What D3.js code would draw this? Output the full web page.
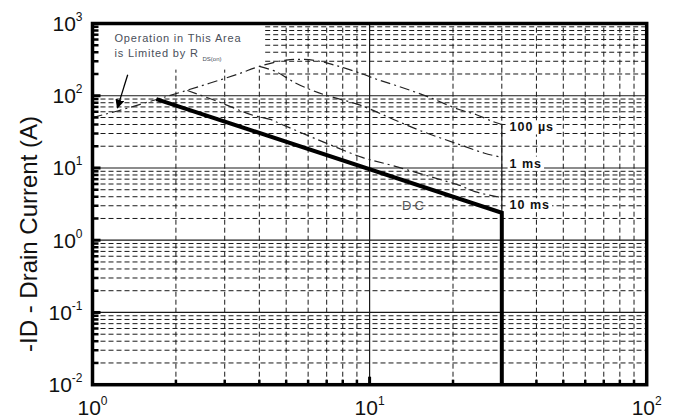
<!DOCTYPE html>
<html>
<head>
<meta charset="utf-8">
<script src="https://cdn.jsdelivr.net/npm/d3@7.9.0/dist/d3.min.js"></script>
<style>
  body { margin: 0; background: #fff; }
  svg { display: block; font-family: Arial, "Liberation Sans", sans-serif; }
</style>
</head>
<body>
<svg id="chart" width="675" height="420"></svg>
<script>
// Axis decades and labels
const xDecades = [1, 10, 100];
const xExponents = ["0", "1", "2"];
const yDecades = [0.01, 0.1, 1, 10, 100, 1000];
const yExponents = ["-2", "-1", "0", "1", "2", "3"];
const minorSteps = [2, 3, 4, 5, 6, 7, 8, 9];

// Safe operating area curves (V, A)
const pulse100usV = [1, 1.24, 1.69, 2.13, 3.33, 4.0, 5.0, 5.8, 6.6, 7.4, 8.2, 9.5, 10.6, 12.3, 16.1, 20.9, 24.2, 27.8, 30];
const pulse100usI = [50, 62, 88, 115, 198, 255, 312, 318, 300, 268, 239, 198, 169, 141, 98, 65, 55, 44, 40];
const pulse1msV = [4.0, 4.6, 5.4, 6.2, 7.0, 9.25, 12.2, 15.2, 20.8, 26, 30];
const pulse1msI = [255, 215, 150, 119, 101, 74, 47, 33, 21.5, 16, 14];
const pulse10msV = [2.2, 2.77, 3.8, 4.38, 4.83, 6.0, 7.2, 9.4, 12.2, 18.5, 21, 24, 30];
const pulse10msI = [118, 86, 53.5, 47, 40, 28, 21, 14, 10.7, 6.7, 5.8, 4.7, 3.9];
const dcV = [1.7, 30, 30];
const dcI = [90, 2.4, 0.01];
const vdsLimitV = [30, 30];
const vdsLimitI = [40, 2.4];

// Curve labels
const pulseLabels = ["100 µs", "1 ms", "10 ms"];
const pulseLabelI = [37, 11.7, 3.1];
const pulseLabelV = 32;

const svg = d3.select("#chart");
const margin = { left: 92.5, right: 28.3, top: 23.5, bottom: 35.3 };
const width = 675, height = 420;
const x0 = margin.left, x1 = width - margin.right;
const y0 = margin.top, y1 = height - margin.bottom;

const x = d3.scaleLog().domain([1, 100]).range([x0, x1]);
const y = d3.scaleLog().domain([0.01, 1000]).range([y1, y0]);

const zip = (a, b) => a.map((v, i) => [v, b[i]]);

// minor values per decade
const xMinor = xDecades.slice(0, -1).flatMap((d) => minorSteps.map((k) => k * d));
const yMinor = yDecades.slice(0, -1).flatMap((d) => minorSteps.map((k) => k * d));

const grid = svg.append("g").attr("stroke", "#1a1a1a").attr("fill", "none");

// horizontal dashed rows (top decade starts right of the note)
yMinor.forEach((v) => {
  grid.append("line")
    .attr("x1", v > 100 ? x(4.2) : x0).attr("x2", x1)
    .attr("y1", y(v)).attr("y2", y(v))
    .attr("stroke-width", 1).attr("stroke-dasharray", "5,3");
});

// vertical dashed columns
xMinor.forEach((v) => {
  grid.append("line")
    .attr("x1", x(v)).attr("x2", x(v))
    .attr("y1", y1).attr("y2", v < 4.5 ? y(230) : y0)
    .attr("stroke-width", 1).attr("stroke-dasharray", "5,3");
});

// solid decade lines
yDecades.slice(1, -1).forEach((v) => {
  grid.append("line")
    .attr("x1", x0).attr("x2", x1).attr("y1", y(v)).attr("y2", y(v))
    .attr("stroke-width", 1.2);
});
xDecades.slice(1, -1).forEach((v) => {
  grid.append("line")
    .attr("x1", x(v)).attr("x2", x(v)).attr("y1", y0).attr("y2", y1)
    .attr("stroke-width", 1.2);
});

// curves
svg.append("defs").append("clipPath").attr("id", "plot")
  .append("rect").attr("x", x0).attr("y", y0).attr("width", x1 - x0).attr("height", y1 - y0);

const curveLine = d3.line()
  .x((d) => x(d[0]))
  .y((d) => y(d[1]))
  .curve(d3.curveCatmullRom.alpha(0.5));

const curves = svg.append("g").attr("clip-path", "url(#plot)").attr("fill", "none");

[zip(pulse100usV, pulse100usI), zip(pulse1msV, pulse1msI), zip(pulse10msV, pulse10msI)].forEach((pts) => {
  curves.append("path")
    .attr("d", curveLine(pts))
    .attr("stroke", "#222")
    .attr("stroke-width", 1.2)
    .attr("stroke-dasharray", "10,4,2,4");
});

curves.append("path")
  .attr("d", d3.line().x((d) => x(d[0])).y((d) => y(d[1]))(zip(vdsLimitV, vdsLimitI)))
  .attr("stroke", "#222").attr("stroke-width", 1.2);

curves.append("path")
  .attr("d", d3.line().x((d) => x(d[0])).y((d) => y(d[1]))(zip(dcV, dcI)))
  .attr("stroke", "#000").attr("stroke-width", 4).attr("stroke-linejoin", "miter");

// curve labels with white backing
pulseLabels.forEach((lab, i) => {
  const t = svg.append("text")
    .attr("x", x(pulseLabelV))
    .attr("y", y(pulseLabelI[i]) + 4.5)
    .attr("font-size", 12.5)
    .attr("font-weight", "bold")
    .attr("letter-spacing", 1)
    .attr("fill", "#111")
    .text(lab);
  const b = t.node().getBBox();
  svg.insert("rect", () => t.node())
    .attr("x", b.x - 2).attr("y", b.y).attr("width", b.width + 4).attr("height", b.height)
    .attr("fill", "#fff");
});

svg.append("text")
  .attr("x", x(13.1)).attr("y", y(3.1) + 5)
  .attr("font-size", 13).attr("letter-spacing", 3).attr("fill", "#555")
  .text("DC");

// note about Rds(on)
const note = svg.append("g").attr("fill", "#4a4f5a").attr("font-size", 11).attr("letter-spacing", 0.8);
note.append("text").attr("x", x0 + 22).attr("y", y(560)).text("Operation in This Area");
const n2 = note.append("text").attr("x", x0 + 22).attr("y", y(340));
n2.append("tspan").text("is Limited by R ");
n2.append("tspan").attr("font-size", 6).attr("dy", 4).attr("letter-spacing", 0).text("DS(on)");

svg.select("defs").append("marker")
  .attr("id", "arrow").attr("viewBox", "0 0 10 10")
  .attr("refX", 9).attr("refY", 5)
  .attr("markerWidth", 7).attr("markerHeight", 7)
  .attr("orient", "auto")
  .append("path").attr("d", "M0,0L10,5L0,10z").attr("fill", "#000");

svg.append("line")
  .attr("x1", x(1.34)).attr("y1", y(195))
  .attr("x2", x(1.23)).attr("y2", y(68))
  .attr("stroke", "#000").attr("stroke-width", 1.3)
  .attr("marker-end", "url(#arrow)");

// frame
svg.append("rect")
  .attr("x", x0).attr("y", y0).attr("width", x1 - x0).attr("height", y1 - y0)
  .attr("fill", "none").attr("stroke", "#000").attr("stroke-width", 3.5);

// axis stubs
const stubs = svg.append("g").attr("stroke", "#000");
yMinor.forEach((v) => {
  stubs.append("line").attr("x1", x0).attr("x2", x0 + 6)
    .attr("y1", y(v)).attr("y2", y(v)).attr("stroke-width", 2.5);
});
yDecades.slice(1, -1).forEach((v) => {
  stubs.append("line").attr("x1", x0).attr("x2", x0 + 8)
    .attr("y1", y(v)).attr("y2", y(v)).attr("stroke-width", 3);
});
xMinor.forEach((v) => {
  stubs.append("line").attr("x1", x(v)).attr("x2", x(v))
    .attr("y1", y1).attr("y2", y1 - 5).attr("stroke-width", 2.5);
});
xDecades.slice(1, -1).forEach((v) => {
  stubs.append("line").attr("x1", x(v)).attr("x2", x(v))
    .attr("y1", y1).attr("y2", y1 - 8).attr("stroke-width", 3);
});

// tick labels
const tickLabel = (sel, exp) => {
  sel.append("tspan").text("10");
  sel.append("tspan").attr("font-size", 12).attr("dy", -10).text(exp);
};

yDecades.forEach((v, i) => {
  svg.append("text")
    .attr("x", x0 - 10).attr("y", y(v) + 7.5)
    .attr("text-anchor", "end").attr("font-size", 21).attr("fill", "#111")
    .call(tickLabel, yExponents[i]);
});

xDecades.forEach((v, i) => {
  svg.append("text")
    .attr("x", x(v)).attr("y", 415)
    .attr("text-anchor", "middle").attr("font-size", 21).attr("fill", "#111")
    .call(tickLabel, xExponents[i]);
});

// y axis title
svg.append("text")
  .attr("transform", `translate(37,234) rotate(-90)`)
  .attr("text-anchor", "middle")
  .attr("font-size", 24)
  .attr("fill", "#111")
  .text("-ID - Drain Current (A)");
</script>
</body>
</html>
